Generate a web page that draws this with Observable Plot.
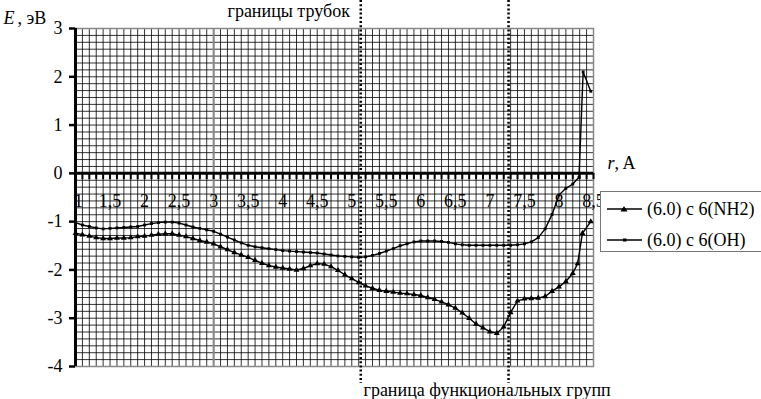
<!DOCTYPE html>
<html><head><meta charset="utf-8">
<script src="https://cdn.jsdelivr.net/npm/d3@7"></script>
<script src="https://cdn.jsdelivr.net/npm/@observablehq/plot@0.6"></script>
<style>
body{margin:0;background:#fff;}
#wrap{position:relative;width:761px;height:399px;overflow:hidden;}
#legend{position:absolute;left:600px;top:191px;width:180px;height:59px;border:1px solid #777;background:#fff;color:#000;}
.row{position:absolute;left:6px;height:20px;display:flex;align-items:center;white-space:nowrap;}
.row svg{margin-right:5px;}
</style></head>
<body>
<div id="wrap"></div>
<script>
// x positions of the samples (Å)
const xMain = [1.0,1.1,1.2,1.3,1.4,1.5,1.6,1.7,1.8,1.9,2.0,2.1,2.2,2.3,2.4,2.5,2.6,2.7,2.8,2.9,
  3.0,3.1,3.2,3.3,3.4,3.5,3.6,3.7,3.8,3.9,4.0,4.1,4.2,4.3,4.4,4.5,4.6,4.7,4.8,4.9,
  5.0,5.1,5.2,5.3,5.4,5.5,5.6,5.7,5.8,5.9,6.0,6.1,6.2,6.3,6.4,6.5,6.6,6.7,6.8,6.9,
  7.0,7.1,7.2,7.3,7.4,7.5,7.6,7.7,7.8,7.9,8.0,8.1,8.2];
const xTailOH = [8.29, 8.35, 8.46];
const xTailNH2 = [8.27, 8.34, 8.46];

// (6.0) c 6(OH) energies, eV
const eOH = [-1.02,-1.07,-1.10,-1.13,-1.15,-1.14,-1.13,-1.12,-1.11,-1.10,
  -1.07,-1.04,-1.02,-1.01,-1.01,-1.03,-1.07,-1.11,-1.14,-1.17,
  -1.20,-1.26,-1.32,-1.38,-1.44,-1.49,-1.52,-1.54,-1.56,-1.58,
  -1.60,-1.61,-1.62,-1.63,-1.64,-1.65,-1.67,-1.69,-1.71,-1.72,
  -1.73,-1.74,-1.73,-1.70,-1.66,-1.61,-1.56,-1.50,-1.46,-1.42,
  -1.40,-1.40,-1.40,-1.41,-1.43,-1.46,-1.48,-1.49,-1.49,-1.49,
  -1.49,-1.49,-1.49,-1.49,-1.48,-1.46,-1.42,-1.33,-1.15,-0.85,
  -0.45,-0.31,-0.22];
const eOHTail = [-0.08, 2.10, 1.70];

// (6.0) c 6(NH2) energies, eV
const eNH2 = [-1.24,-1.27,-1.30,-1.33,-1.35,-1.35,-1.34,-1.34,-1.33,-1.31,
  -1.30,-1.28,-1.26,-1.25,-1.25,-1.28,-1.31,-1.35,-1.39,-1.42,
  -1.46,-1.52,-1.58,-1.64,-1.69,-1.74,-1.80,-1.86,-1.91,-1.94,
  -1.96,-1.98,-2.00,-1.97,-1.91,-1.87,-1.88,-1.93,-2.01,-2.10,
  -2.18,-2.26,-2.33,-2.38,-2.42,-2.44,-2.46,-2.48,-2.49,-2.51,
  -2.53,-2.57,-2.61,-2.66,-2.72,-2.79,-2.89,-3.00,-3.12,-3.20,
  -3.28,-3.31,-3.18,-2.88,-2.64,-2.60,-2.59,-2.58,-2.55,-2.44,
  -2.35,-2.24,-2.07];
const eNH2Tail = [-1.87, -1.24, -1.00];

const seriesNames = ["(6.0) c 6(NH2)", "(6.0) c 6(OH)"];
const xTickLabels = [1,1.5,2,2.5,3,3.5,4,4.5,5,5.5,6,6.5,7,7.5,8,8.5];
const yTickLabels = [-4,-3,-2,-1,0,1,2,3];
const boundaries = [5.13, 7.27];

const rowsNH2 = xMain.concat(xTailNH2).map((x, i) => ({x, y: eNH2.concat(eNH2Tail)[i], s: seriesNames[0]}));
const rowsOH = xMain.concat(xTailOH).map((x, i) => ({x, y: eOH.concat(eOHTail)[i], s: seriesNames[1]}));

const gridXs = d3.range(10, 86).map(i => i / 10);
const gridYs = d3.range(-28, 22).map(i => i / 7);
const combXs = d3.range(10, 86).map(i => i / 10);
const F = "Liberation Serif";
const fmt = d => String(d).replace(".", ",");
const T = {fontFamily: F, fontSize: 18, fill: "#000"};

const chart = Plot.plot({
  width: 761, height: 399,
  marginLeft: 75, marginRight: 168, marginTop: 28, marginBottom: 33,
  style: {fontFamily: F, fontSize: "18px", background: "transparent", overflow: "visible", color: "#000"},
  x: {domain: [1, 8.5], axis: null},
  y: {domain: [-4, 3], axis: null},
  marks: [
    Plot.ruleX(gridXs, {stroke: "#000", strokeOpacity: 0.8, strokeWidth: 1}),
    Plot.ruleY(gridYs, {stroke: "#000", strokeOpacity: 0.8, strokeWidth: 1}),
    Plot.ruleX([3], {stroke: "#888", strokeWidth: 2}),
    Plot.frame({stroke: "#888", strokeWidth: 1.5}),
    Plot.ruleX(boundaries, {y1: 3.58, y2: -4.35, stroke: "#000", strokeWidth: 2.5, strokeDasharray: "2,2.2"}),
    Plot.ruleY([0], {stroke: "#000", strokeWidth: 3}),
    Plot.ruleX(combXs, {y1: 0, y2: -0.13, stroke: "#000", strokeWidth: 2}),
    Plot.text(xTickLabels.slice(0, 1), {...T, x: d => d, y: 0, dy: 28, dx: 3, text: fmt}),
    Plot.text(xTickLabels.slice(1), {...T, x: d => d, y: 0, dy: 28, text: fmt}),
    Plot.ruleX([1], {stroke: "#000", strokeWidth: 3}),
    Plot.axisY({ticks: yTickLabels, tickSize: 6, tickPadding: 7, tickFormat: d => String(d), fontSize: 18, fontFamily: F, label: null, strokeWidth: 2.5}),
    Plot.line(rowsOH, {x: "x", y: "y", stroke: "#000", strokeWidth: 1.4}),
    Plot.line(rowsNH2, {x: "x", y: "y", stroke: "#000", strokeWidth: 1.4}),
    Plot.dot(rowsOH, {x: "x", y: "y", symbol: "square", r: 1.6, fill: "#000"}),
    Plot.dot(rowsNH2, {x: "x", y: "y", symbol: "triangle", r: 2.2, fill: "#000"}),
    Plot.text(["E"], {...T, frameAnchor: "top-left", dx: -72, dy: -10, textAnchor: "start", lineAnchor: "middle", fontStyle: "italic"}),
    Plot.text([", эВ"], {...T, frameAnchor: "top-left", dx: -58, dy: -10, textAnchor: "start", lineAnchor: "middle"}),
    Plot.text(["r"], {...T, frameAnchor: "top-right", dx: 14, dy: 135, textAnchor: "start", lineAnchor: "middle", fontStyle: "italic"}),
    Plot.text([", A"], {...T, frameAnchor: "top-right", dx: 21, dy: 135, textAnchor: "start", lineAnchor: "middle"}),
    Plot.text(["границы трубок"], {...T, frameAnchor: "top-left", dx: 152, dy: -17, textAnchor: "start", lineAnchor: "middle"}),
    Plot.text(["граница функциональных групп"], {...T, frameAnchor: "bottom-left", dx: 288, dy: 24, textAnchor: "start", lineAnchor: "middle"})
  ]
});
const wrap = document.getElementById("wrap");
wrap.appendChild(chart);

const legend = document.createElement("div");
legend.id = "legend";
const marker = [
  '<path d="M17,5 L20.5,10.5 L13.5,10.5 Z" fill="#000"/>',
  '<rect x="16" y="6.5" width="3.5" height="3" fill="#000"/>'
];
seriesNames.forEach((name, i) => {
  const row = document.createElement("div");
  row.className = "row";
  row.style.top = (i === 0 ? 7 : 38) + "px";
  row.innerHTML = '<svg width="35" height="16"><line x1="0" x2="35" y1="8" y2="8" stroke="#000" stroke-width="1.4"/>' + marker[i] + '</svg><span style="font-family:\'Liberation Serif\';font-size:18px">' + name + '</span>';
  legend.appendChild(row);
});
wrap.appendChild(legend);
</script>
</body></html>
